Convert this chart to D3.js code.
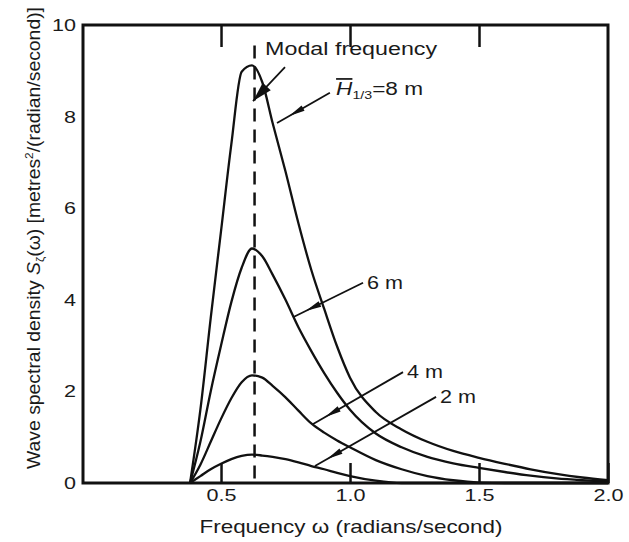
<!DOCTYPE html>
<html>
<head>
<meta charset="utf-8">
<script src="https://cdn.jsdelivr.net/npm/d3@7"></script>
<style>
  body { margin: 0; background: #fff; }
  text { font-family: "Liberation Sans", Arial, sans-serif; fill: #1a1a1a; }
</style>
</head>
<body>
<script>
// frequency grid (radians/second), shared by all curves
const omega = [0.38, 0.42, 0.46, 0.50, 0.54, 0.58, 0.62, 0.66, 0.70, 0.75, 0.80, 0.85, 0.90, 0.95,
               1.00, 1.10, 1.20, 1.30, 1.40, 1.50, 1.60, 1.70, 1.80, 1.90, 2.00]

// spectral density for each significant wave height
const s8m = [0, 1.6, 3.6, 5.5, 7.4, 8.98, 9.12, 8.75, 7.86, 6.8, 5.67, 4.65, 3.8, 2.98,
             2.3, 1.55, 1.17, 0.9, 0.7, 0.55, 0.42, 0.3, 0.2, 0.12, 0.06]
const s6m = [0, 0.9, 2.0, 3.0, 3.95, 4.7, 5.12, 4.95, 4.55, 4.0, 3.4, 2.88, 2.4, 1.97,
             1.6, 1.08, 0.78, 0.57, 0.43, 0.33, 0.24, 0.16, 0.1, 0.06, 0.03]
const s4m = [0, 0.4, 0.9, 1.4, 1.85, 2.2, 2.35, 2.3, 2.12, 1.87, 1.58, 1.3, 1.1, 0.93,
             0.78, 0.5, 0.3, 0.15, 0.06, 0.01, 0, 0, 0, 0, 0]
const s2m = [0, 0.15, 0.3, 0.42, 0.52, 0.59, 0.62, 0.6, 0.57, 0.52, 0.45, 0.37, 0.3, 0.22,
             0.15, 0.05, 0, 0, 0, 0, 0, 0, 0, 0, 0]

const xTicks = [0.5, 1.0, 1.5, 2.0]
const yTicks = [0, 2, 4, 6, 8, 10]
const modalFreq = 0.63

// curve labels: [text, label x, label y, arrow end x, arrow end y] in data units
const curveLabels = [
  ['6 m', 1.066, 4.24, 0.779, 3.62],
  ['4 m', 1.221, 2.29, 0.857, 1.29],
  ['2 m', 1.349, 1.75, 0.864, 0.37]
]

const m = { width: 629, height: 542, left: 83, right: 608, top: 25, bottom: 483 }

const svg = d3.select('body').append('svg')
  .attr('width', m.width)
  .attr('height', m.height)

const x = d3.scaleLinear().domain([-0.035, 2.0]).range([m.left, m.right])
const y = d3.scaleLinear().domain([0, 10]).range([m.bottom, m.top])

// stretched text helper, the scan is wide
function label(sel, px, py, str, size, len, anchor) {
  return sel.append('text')
    .attr('x', px).attr('y', py)
    .attr('font-size', size)
    .attr('text-anchor', anchor || 'start')
    .attr('textLength', len)
    .attr('lengthAdjust', 'spacingAndGlyphs')
    .text(str)
}

// top ticks (inward)
svg.append('g')
  .attr('transform', `translate(0,${m.top})`)
  .call(d3.axisTop(x).tickValues([0.5, 1.0, 1.5]).tickSize(-22).tickFormat(''))
  .call(g => g.select('.domain').remove())
  .call(g => g.selectAll('line').attr('stroke', '#111').attr('stroke-width', 2.5))

// bottom ticks + labels
svg.append('g')
  .attr('transform', `translate(0,${m.bottom})`)
  .call(d3.axisBottom(x).tickValues(xTicks).tickSize(-20).tickPadding(7).tickFormat(d3.format('.1f')))
  .call(g => g.select('.domain').remove())
  .call(g => g.selectAll('line').attr('stroke', '#111').attr('stroke-width', 2.5))
  .call(g => g.selectAll('text')
    .attr('font-size', 16).attr('font-family', '"Liberation Sans", Arial, sans-serif')
    .attr('fill', '#1a1a1a')
    .attr('textLength', 30).attr('lengthAdjust', 'spacingAndGlyphs'))

// left labels, no tick marks
svg.append('g')
  .attr('transform', `translate(${m.left},0)`)
  .call(d3.axisLeft(y).tickValues(yTicks).tickSize(0).tickPadding(7))
  .call(g => g.select('.domain').remove())
  .call(g => g.selectAll('text')
    .attr('font-size', 17).attr('font-family', '"Liberation Sans", Arial, sans-serif')
    .attr('fill', '#1a1a1a')
    .attr('textLength', d => String(d).length * 12).attr('lengthAdjust', 'spacingAndGlyphs'))

// frame
svg.append('rect')
  .attr('x', m.left).attr('y', m.top)
  .attr('width', m.right - m.left).attr('height', m.bottom - m.top)
  .attr('fill', 'none').attr('stroke', '#111').attr('stroke-width', 3)

// modal frequency dashed line
svg.append('line')
  .attr('x1', x(modalFreq)).attr('x2', x(modalFreq))
  .attr('y1', y(9.55)).attr('y2', y(0))
  .attr('stroke', '#111').attr('stroke-width', 2.5)
  .attr('stroke-dasharray', '13,8')

// spectra
const line = d3.line()
  .x((d, i) => x(omega[i]))
  .y(d => y(d))
  .curve(d3.curveMonotoneX)

svg.selectAll('.spectrum')
  .data([s8m, s6m, s4m, s2m])
  .enter()
  .append('path')
  .attr('class', 'spectrum')
  .attr('d', line)
  .attr('fill', 'none')
  .attr('stroke', '#111')
  .attr('stroke-width', 2.3)

// arrow with a thin filled head set back from the end
function arrow(x0, y0, x1, y1, back, headLen, headW) {
  const a = svg.append('g')
  a.append('line')
    .attr('x1', x0).attr('y1', y0).attr('x2', x1).attr('y2', y1)
    .attr('stroke', '#111').attr('stroke-width', 1.8)
  const dx = x1 - x0, dy = y1 - y0
  const len = Math.sqrt(dx * dx + dy * dy)
  const ux = dx / len, uy = dy / len
  const tx = x1 - ux * back, ty = y1 - uy * back
  const bx = tx - ux * headLen, by = ty - uy * headLen
  a.append('path')
    .attr('d', `M${tx},${ty}L${bx - uy * headW},${by + ux * headW}L${bx + uy * headW},${by - ux * headW}Z`)
    .attr('fill', '#111')
}

// Modal frequency label + arrow
label(svg, x(0.671), y(9.34), 'Modal frequency', 17.5, 172)
arrow(x(0.748), y(9.08), x(0.624), y(8.34), 0, 20, 5.5)

// 8 m label with H-bar 1/3
const h = svg.append('text')
  .attr('x', x(0.946)).attr('y', y(8.47))
  .attr('font-size', 17.5)
  .attr('textLength', 87)
  .attr('lengthAdjust', 'spacingAndGlyphs')
h.append('tspan').attr('font-style', 'italic').attr('text-decoration', 'overline').text('H')
h.append('tspan').attr('font-size', 11).attr('dy', 4).text('1/3')
h.append('tspan').attr('dy', -4).text('=8 m')
arrow(x(0.922), y(8.52), x(0.717), y(7.86), 14, 16, 3)

curveLabels.forEach(function (d) {
  label(svg, x(d[1]), y(d[2]), d[0], 17.5, 36)
  arrow(x(d[1]) - 4, y(d[2]) - 6, x(d[3]), y(d[4]), 14, 16, 3)
})

// axis titles
label(svg, 351, 533, 'Frequency \u03c9 (radians/second)', 19, 303, 'middle')

const yt = svg.append('text')
  .attr('transform', 'translate(40,238) rotate(-90)')
  .attr('text-anchor', 'middle')
  .attr('font-size', 18)
  .attr('textLength', 462)
  .attr('lengthAdjust', 'spacingAndGlyphs')
yt.append('tspan').text('Wave spectral density ')
yt.append('tspan').attr('font-style', 'italic').text('S')
yt.append('tspan').attr('font-size', 11).attr('dy', 4).text('\u03b6')
yt.append('tspan').attr('dy', -4).text('(\u03c9) [metres')
yt.append('tspan').attr('font-size', 11).attr('dy', -7).text('2')
yt.append('tspan').attr('dy', 7).text('/(radian/second)]')
</script>
</body>
</html>
